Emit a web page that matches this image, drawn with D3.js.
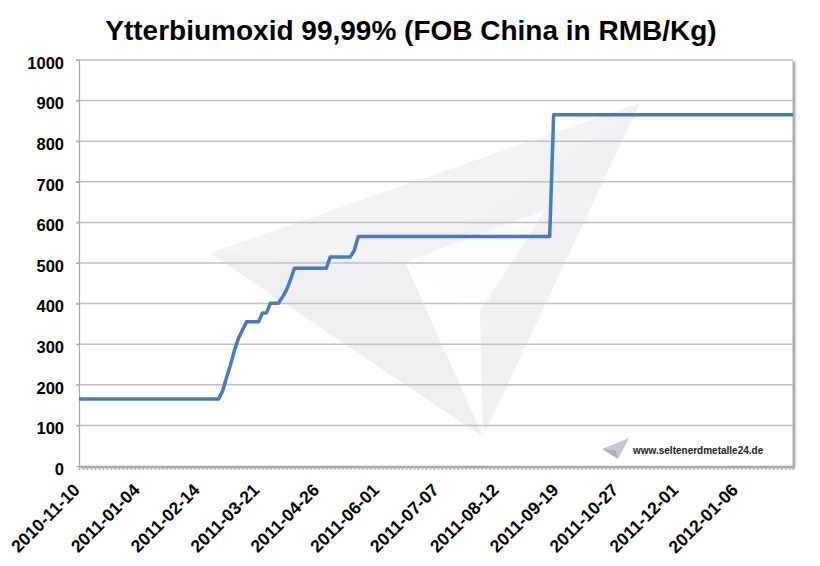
<!DOCTYPE html>
<html><head><meta charset="utf-8">
<script src="https://cdn.jsdelivr.net/npm/d3@7"></script>
<style>
html,body{margin:0;padding:0;background:#fff;}
text{font-family:"Liberation Sans",Arial,Helvetica,sans-serif;}
</style></head>
<body><svg id="c" width="820" height="566"></svg>
<script>
// ---- data ----
const title = "Ytterbiumoxid 99,99% (FOB China in RMB/Kg)";
const categoryCount = 180;
const xTickLabels = ["2010-11-10","2011-01-04","2011-02-14","2011-03-21","2011-04-26","2011-06-01",
                     "2011-07-07","2011-08-12","2011-09-19","2011-10-27","2011-12-01","2012-01-06"];
const labelEvery = 15;
const yTickValues = [0,100,200,300,400,500,600,700,800,900,1000];
// price series: category index where the price is read, and the price (RMB/Kg)
const priceIndex = [0,35,36,37,38,39,40,41,42,45,46,47,48,50,51,52,53,54,62,63,68,69,70,118,119,179];
const priceValue = [165,165,185,218,250,286,315,335,355,355,377,377,401,401,416,433,458,487,487,515,515,530,565,565,865,865];
const watermarkUrl = "www.seltenerdmetalle24.de";

// ---- layout ----
const svg = d3.select("#c");
const L = 79, R = 793, T = 60, B = 466;
const x = d3.scaleLinear().domain([0, categoryCount - 1]).range([L, R]);
const y = d3.scaleLinear().domain([0, 1000]).range([B, T]);

const defs = svg.append("defs");
const f = defs.append("filter").attr("id","sh").attr("x","-5%").attr("y","-5%").attr("width","115%").attr("height","115%");
f.append("feDropShadow").attr("dx",2).attr("dy",2).attr("stdDeviation",1.3).attr("flood-color","#000").attr("flood-opacity",0.45);

// plot background with shadow on right/bottom
svg.append("rect").attr("x",L).attr("y",T).attr("width",R-L).attr("height",B-T)
  .attr("fill","#fff").attr("filter","url(#sh)");
svg.append("line").attr("x1",R).attr("x2",R).attr("y1",T).attr("y2",B).attr("stroke","#b5b5b5").attr("stroke-width",1);

// watermark logo (large paper plane)
const wm = svg.append("g").attr("opacity",0.45);
wm.append("path").attr("d","M210,253 L640,103 L405,262 Z").attr("fill","#e4e4ee");
wm.append("path").attr("d","M210,253 L405,262 L483,437 Z").attr("fill","#dadae6");
wm.append("path").attr("d","M405,262 L640,103 L483,437 L480,312 Z").attr("fill","#e0e0ec");
wm.append("path").attr("d","M405,262 L545,210 L480,312 Z").attr("fill","#fbfbfd");

// gridlines
svg.append("g").selectAll("line").data(yTickValues.filter(v=>v>0)).join("line")
  .attr("x1",L-3).attr("x2",R).attr("y1",d=>y(d)).attr("y2",d=>y(d))
  .attr("stroke","#c0c0c0").attr("stroke-width",1.5);

// y axis
const ya = svg.append("g").attr("transform",`translate(${L},0)`)
  .call(d3.axisLeft(y).tickValues(yTickValues).tickSize(3).tickPadding(12).tickFormat(d3.format("d")));
ya.select(".domain").attr("stroke","#a8a8a8").attr("stroke-width",1.2);
ya.selectAll(".tick line").attr("stroke","#a8a8a8");
ya.selectAll("text").attr("font-size","16.5px").attr("font-weight","bold").attr("fill","#000")
  .attr("font-family","'Liberation Sans',Arial,sans-serif").attr("dy","0.5em");

// x axis (one tick per category)
const xa = svg.append("g").attr("transform",`translate(0,${B})`)
  .call(d3.axisBottom(x).tickValues(d3.range(categoryCount)).tickSize(4).tickFormat(""));
xa.select(".domain").attr("stroke","#a8a8a8").attr("stroke-width",1.5);
xa.selectAll(".tick line").attr("stroke","#b0b0b0").attr("stroke-width",1.2);

svg.append("g").selectAll("text").data(xTickLabels).join("text")
  .attr("transform",(d,i)=>`translate(${x(i*labelEvery)+2},${B+25}) rotate(-45)`)
  .attr("text-anchor","end").attr("font-size","17.5px").attr("font-weight","bold")
  .attr("fill","#000").text(d=>d);

// series line
const pts = priceIndex.map((d,i)=>[d, priceValue[i]]);
svg.append("path").datum(pts)
  .attr("d", d3.line().x(d=>x(d[0])).y(d=>y(d[1])))
  .attr("fill","none").attr("stroke","#4a7ab8").attr("stroke-width",3.5)
  .attr("stroke-linejoin","round");

// small logo + url
svg.append("path").attr("d","M602,449 L629,438 L618,459 L616,450 Z").attr("fill","#c4c8d6");
svg.append("path").attr("d","M602,449 L616,450 L618,459 Z").attr("fill","#a9aec2");
svg.append("text").attr("x",633).attr("y",454).attr("font-size","10px").attr("font-weight","bold")
  .attr("fill","#222").text(watermarkUrl);

// title
svg.append("text").attr("x",411).attr("y",40).attr("text-anchor","middle")
  .attr("font-size","28px").attr("font-weight","bold").attr("fill","#000").text(title);
</script></body></html>
